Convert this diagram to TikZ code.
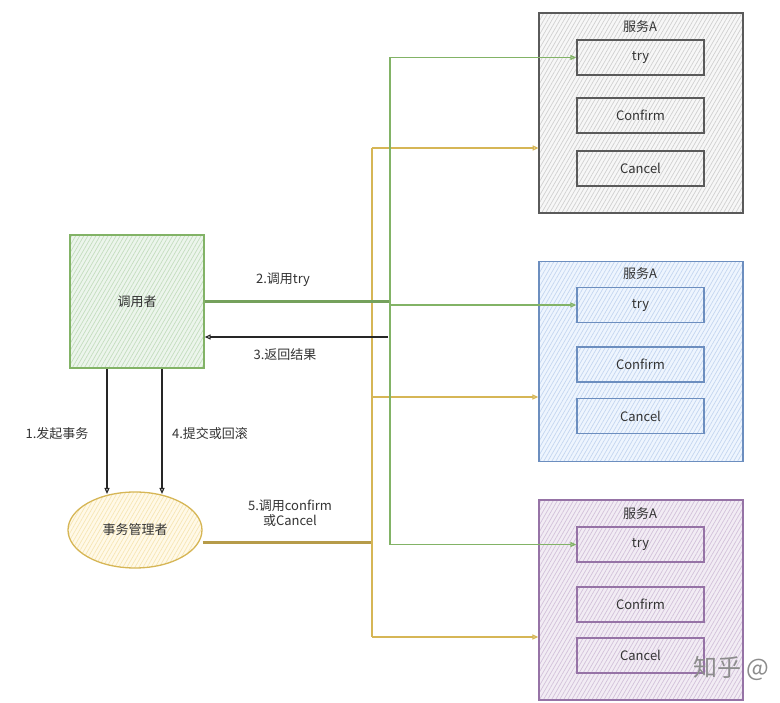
\documentclass[tikz,border=0pt]{standalone}
\usepackage{fontspec}
\setmainfont{Noto Sans CJK SC}
\usetikzlibrary{arrows.meta,patterns.meta,shapes.geometric}
\definecolor{gS}{HTML}{82B366}\definecolor{gF}{HTML}{D5E8D4}
\definecolor{yS}{HTML}{D6B656}\definecolor{yF}{HTML}{FFF2CC}
\definecolor{bS}{HTML}{6C8EBF}\definecolor{bF}{HTML}{DAE8FC}
\definecolor{pS}{HTML}{9673A6}\definecolor{pF}{HTML}{E1D5E7}
\definecolor{kS}{HTML}{5A5A5A}\definecolor{kF}{HTML}{EDEDED}
\definecolor{txt}{HTML}{333333}
\tikzset{
  x=1pt,y=-1pt,
  every node/.style={text=txt,font=\fontsize{13}{15}\selectfont},
  hatch/.style 2 args={draw=#1,line width=1.3pt,
     preaction={fill=#2!45},
     pattern={Lines[angle=60,distance=3.5pt,line width=0.7pt]},pattern color=#2!80!#1},
  svc/.style 2 args={hatch={#1}{#2},minimum width=204pt,minimum height=200pt,inner sep=0pt},
  op/.style 2 args={hatch={#1}{#2},minimum width=127pt,minimum height=35pt,inner sep=0pt},
  tip/.style={-{Triangle[open,length=6pt,width=5pt]}},
  gline/.style={draw=gS!90!black,line width=3pt},
  yline/.style={draw=yS!85!black,line width=3pt},
  thin/.style={line width=1.3pt},
  kline/.style={draw=black!85,line width=1.1pt},
  lbl/.style={inner sep=1pt}
}
\begin{document}
\begin{tikzpicture}
\useasboundingbox (0,0) rectangle (780,703);
% service boxes
\node[svc={kS}{kF}] (sA) at (641,113) {};
\node[svc={bS}{bF}] (sB) at (641,361.5) {};
\node[svc={pS}{pF}] (sC) at (641,600) {};
\node[lbl] (tA) at (640,27) {服务A};
\node[lbl] (tB) at (640,274) {服务A};
\node[lbl] (tC) at (640,514) {服务A};
\node[op={kS}{kF}] (tryA) at (640.5,57.5) {try};
\node[op={kS}{kF}] (conA) at (640.5,115.5) {Confirm};
\node[op={kS}{kF}] (canA) at (640.5,168.5) {Cancel};
\node[op={bS}{bF}] (tryB) at (640.5,305) {try};
\node[op={bS}{bF}] (conB) at (640.5,364.5) {Confirm};
\node[op={bS}{bF}] (canB) at (640.5,416) {Cancel};
\node[op={pS}{pF}] (tryC) at (640.5,544.5) {try};
\node[op={pS}{pF}] (conC) at (640.5,604.5) {Confirm};
\node[op={pS}{pF}] (canC) at (640.5,655.5) {Cancel};
% caller and manager
\node[hatch={gS}{gF},minimum width=134pt,minimum height=133pt,inner sep=0pt] (caller) at (137,301.5) {调用者};
\node[ellipse,hatch={yS}{yF},minimum width=134pt,minimum height=76pt,inner sep=0pt] (mgr) at (135,530) {事务管理者};
% 1 and 4
\coordinate (e1) at (107,494);
\coordinate (e4) at (162,494);
\draw[kline,tip] (caller.south -| e1) -- (e1);
\draw[kline,tip] (caller.south -| e4) -- (e4);
\node[lbl] (l1) at (57,434) {1.发起事务};
\node[lbl] (l4) at (210,434) {4.提交或回滚};
% yellow bus
\coordinate (yj) at (372,542);
\coordinate (yt) at (372,148);
\coordinate (ym) at (372,397);
\coordinate (yb) at (372,637);
\draw[yline] (mgr.east |- yj) -- (yj);
\draw[yS,thin] (yt) -- (yb);
\draw[yS,thin,tip] (yt) -- (yt -| sA.west);
\draw[yS,thin,tip] (ym) -- (ym -| sB.west);
\draw[yS,thin,tip] (yb) -- (yb -| sC.west);
% green bus
\coordinate (gj) at (390,301.5);
\coordinate (gt) at (390,57.5);
\coordinate (gm) at (390,305);
\coordinate (gb) at (390,544.5);
\draw[gline] (caller.east) -- (gj);
\draw[gS,thin] (gt) -- (gb);
\draw[gS,thin,tip] (gt) -- (tryA.west);
\draw[gS,thin,tip] (gm) -- (tryB.west);
\draw[gS,thin,tip] (gb) -- (tryC.west);
% return
\coordinate (rj) at (388,337);
\draw[kline,tip] (rj) -- (rj -| caller.east);
\node[lbl] (l2) at (283,280) {2.调用try};
\node[lbl] (l3) at (285,355) {3.返回结果};
\node[lbl,align=center] (l5) at (290,513) {5.调用confirm\\或Cancel};
% watermark
\node[lbl,text=black!45,font=\fontsize{24}{26}\selectfont,anchor=west] (wm) at (692,668) {知乎 @};
\end{tikzpicture}
\end{document}
